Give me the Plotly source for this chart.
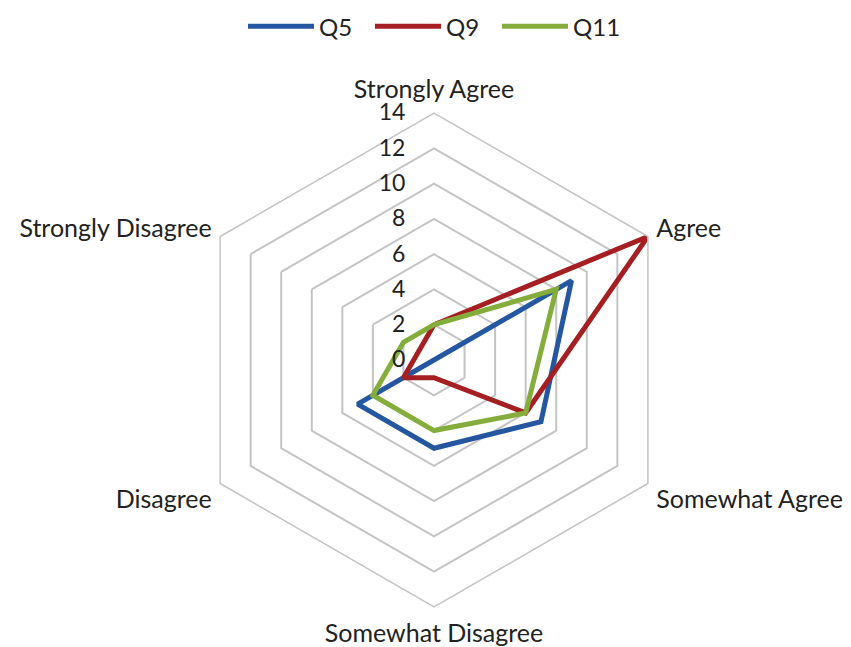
import plotly.graph_objects as go

categories = ["Strongly Agree", "Agree", "Somewhat Agree", "Somewhat Disagree", "Disagree", "Strongly Disagree"]
q5 = [0, 9, 7, 5, 5, 0]
q9 = [2, 14, 6, 1, 2, 1]
q11 = [2, 8, 6, 4, 4, 2]
series = [("Q5", q5, "#2457A0"), ("Q9", q9, "#A51E22"), ("Q11", q11, "#84AD3C")]
radial_ticks = [0, 2, 4, 6, 8, 10, 12, 14]

fig = go.Figure()
for name, vals, col in series:
    fig.add_trace(go.Scatterpolar(
        r=vals + vals[:1], theta=categories + categories[:1], name=name,
        mode="lines", line=dict(color=col, width=5), line_shape="linear",
    ))

W, H = 851, 647
cx, cy, R = 426, 352, 247
fig.update_layout(
    width=W, height=H, margin=dict(l=0, r=0, t=0, b=0, autoexpand=False),
    paper_bgcolor="white", plot_bgcolor="white",
    font=dict(family="Lato", size=24, color="#222222"),
    showlegend=True,
    legend=dict(orientation="h", x=0.5, xanchor="center", y=1.006, yanchor="top",
                itemwidth=66, font=dict(size=24), tracegroupgap=0,
                entrywidth=46, entrywidthmode="pixels"),
    polar=dict(
        domain=dict(x=[(cx - R) / W, (cx + R) / W], y=[(H - cy - R) / H, (H - cy + R) / H]),
        gridshape="linear", bgcolor="white",
        angularaxis=dict(rotation=90, direction="clockwise", showgrid=False,
                         showline=True, linecolor="#c4c4c4", linewidth=1.5,
                         ticks="outside", ticklen=4, tickcolor="rgba(0,0,0,0)",
                         tickfont=dict(size=25)),
        radialaxis=dict(range=[0, 14], tickvals=radial_ticks, angle=90, showline=False,
                        gridcolor="#c4c4c4", gridwidth=1.5, ticks="outside", ticklen=20,
                        tickcolor="rgba(0,0,0,0)",
                        tickangle=90, side="counterclockwise", tickfont=dict(size=23)),
    ),
)
fig.write_html("out.html")
